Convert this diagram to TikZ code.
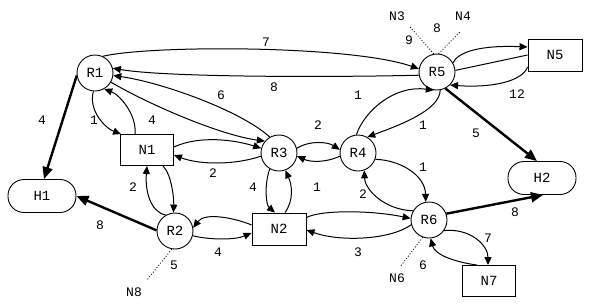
\documentclass[tikz,border=0pt]{standalone}
\usepackage{fontspec}
\setmainfont{Liberation Mono}
\usetikzlibrary{arrows.meta}
\begin{document}
\begin{tikzpicture}[x=1pt,y=-1pt, font=\fontsize{13}{15}\selectfont,
 rt/.style={circle,draw,line width=0.9pt,minimum size=36pt,inner sep=0pt,font=\fontsize{14}{16}\selectfont},
 nt/.style={rectangle,draw,line width=0.9pt,minimum width=53pt,minimum height=31pt,inner sep=0pt,font=\fontsize{14}{16}\selectfont},
 ht/.style={rectangle,rounded corners=16pt,draw,line width=0.9pt,minimum width=68pt,minimum height=33pt,inner sep=0pt,font=\fontsize{14}{16}\selectfont},
 ln/.style={line width=1pt,-{Triangle[length=8pt,width=7pt]}},
 thk/.style={line width=2.4pt,-{Triangle[length=12pt,width=10pt]}},
 dotln/.style={dotted,line width=0.9pt},
 lb/.style={inner sep=0pt}]
\fill[white] (0,0) rectangle (592,306);
\useasboundingbox (0,0) rectangle (592,306);
% nodes
\node[rt] (R1) at (95,73) {R1};
\node[rt] (R2) at (175,231) {R2};
\node[rt] (R3) at (279,153) {R3};
\node[rt] (R4) at (358,153) {R4};
\node[rt] (R5) at (437,72) {R5};
\node[rt] (R6) at (429,220) {R6};
\node[nt] (N1) at (147,150) {N1};
\node[nt,minimum width=54pt,minimum height=32pt] (N2) at (279,229) {N2};
\node[nt,minimum width=54pt,minimum height=32pt] (N5) at (555,55) {N5};
\node[nt] (N7) at (489,281) {N7};
\node[ht] (H1) at (42,196) {H1};
\node[ht] (H2) at (542,178) {H2};
% external labels
\node[lb] (N3) at (397,16) {N3};
\node[lb] (N4) at (463,16) {N4};
\node[lb] (N8) at (134,292) {N8};
\node[lb] (N6) at (397,278) {N6};
\coordinate (c3) at (410,27);
\coordinate (c4) at (460,32);
\coordinate (c8) at (147,280);
\coordinate (c6) at (400,267);
\draw[dotln] (R5.100) -- (c3);
\draw[dotln] (R5.85) -- (c4);
\draw[dotln] (R2.-100) -- (c8);
\draw[dotln] (R6.-110) -- (c6);
% thick links
\draw[thk] (R1.188) -- ([xshift=2pt]H1.north);
\draw[thk] (R2.178) -- (H1.east);
\draw[thk] (R5.-63) -- ([xshift=-5pt]H2.north);
\draw[thk] (R6.20) -- ([xshift=1pt]H2.south);
% thin links
\draw[ln] (R1.-95) .. controls (88,110) and (105,128) .. ([xshift=1pt]N1.north west);
\draw[ln] ([xshift=-12pt]N1.north) .. controls (137,115) and (120,95) .. (R1.-60);
\draw[ln] (R1.-30) .. controls (150,105) and (220,135) .. (R3.140);
\draw[ln] (R3.120) .. controls (240,110) and (160,82) .. (R1.-8);
\draw[ln] (R1.65) .. controls (150,45) and (350,45) .. (R5.170);
\draw[ln] (R5.-170) .. controls (350,77) and (170,78) .. (R1.15);
\draw[ln] ([yshift=3pt]N1.east) .. controls (200,135) and (235,140) .. (R3.165);
\draw[ln] (R3.-170) .. controls (235,165) and (200,165) .. ([yshift=-5pt]N1.east);
\draw[ln] (R2.120) .. controls (150,212) and (145,190) .. (N1.south);
\draw[ln] ([xshift=16pt]N1.south) .. controls (172,175) and (174,200) .. (R2.95);
\draw[ln] ([yshift=4pt]N2.west) .. controls (235,218) and (205,212) .. (R2.10);
\draw[ln] (R2.-15) .. controls (210,240) and (235,240) .. ([yshift=-4pt]N2.west);
\draw[ln] (R3.-120) .. controls (264,185) and (266,205) .. ([xshift=-4pt]N2.north);
\draw[ln] ([xshift=6pt]N2.north) .. controls (294,200) and (292,185) .. (R3.-70);
\draw[ln] (R3.15) .. controls (310,140) and (328,142) .. (R4.170);
\draw[ln] (R4.-170) .. controls (325,163) and (310,162) .. (R3.-10);
\draw[ln] (R4.95) .. controls (365,110) and (395,85) .. (R5.-100);
\draw[ln] (R5.-80) .. controls (440,110) and (400,125) .. (R4.60);
\draw[ln] (R4.-20) .. controls (400,160) and (425,175) .. (R6.100);
\draw[ln] (R6.150) .. controls (385,210) and (365,190) .. (R4.-70);
\draw[ln] ([yshift=-5pt]N2.north east) .. controls (320,210) and (370,210) .. (R6.175);
\draw[ln] (R6.-165) .. controls (390,240) and (340,242) .. ([yshift=-1pt]N2.east);
\draw[ln] (R6.-35) .. controls (470,228) and (488,245) .. ([xshift=-1pt]N7.north);
\draw[ln] ([xshift=-12pt]N7.north) .. controls (455,262) and (435,255) .. (R6.-85);
\draw[ln] (R5.30) .. controls (458,52) and (480,45) .. ([yshift=8pt]N5.west);
\draw[line width=1pt] (R5.5) -- (N5.west);
\draw[ln] ([yshift=-12pt]N5.west) .. controls (522,82) and (490,88) .. (R5.-45);
% link labels
\node[lb] (l1) at (42,120) {4};
\node[lb] (l2) at (94,120) {1};
\node[lb] (l3) at (152,120) {4};
\node[lb] (l4) at (266,42) {7};
\node[lb] (l5) at (274,87) {8};
\node[lb] (l6) at (221,95) {6};
\node[lb] (l7) at (358,95) {1};
\node[lb] (l8) at (318,125) {2};
\node[lb] (l9) at (409,40) {9};
\node[lb] (l10) at (437,28) {8};
\node[lb] (l11) at (517,94) {12};
\node[lb] (l12) at (476,133) {5};
\node[lb] (l13) at (423,125) {1};
\node[lb] (l14) at (423,167) {1};
\node[lb] (l15) at (363,194) {2};
\node[lb] (l16) at (213,173) {2};
\node[lb] (l17) at (253,187) {4};
\node[lb] (l18) at (317,187) {1};
\node[lb] (l19) at (218,252) {4};
\node[lb] (l20) at (358,252) {3};
\node[lb] (l21) at (133,187) {2};
\node[lb] (l22) at (100,225) {8};
\node[lb] (l23) at (174,265) {5};
\node[lb] (l24) at (515,212) {8};
\node[lb] (l25) at (488,238) {7};
\node[lb] (l26) at (423,265) {6};
\end{tikzpicture}
\end{document}
